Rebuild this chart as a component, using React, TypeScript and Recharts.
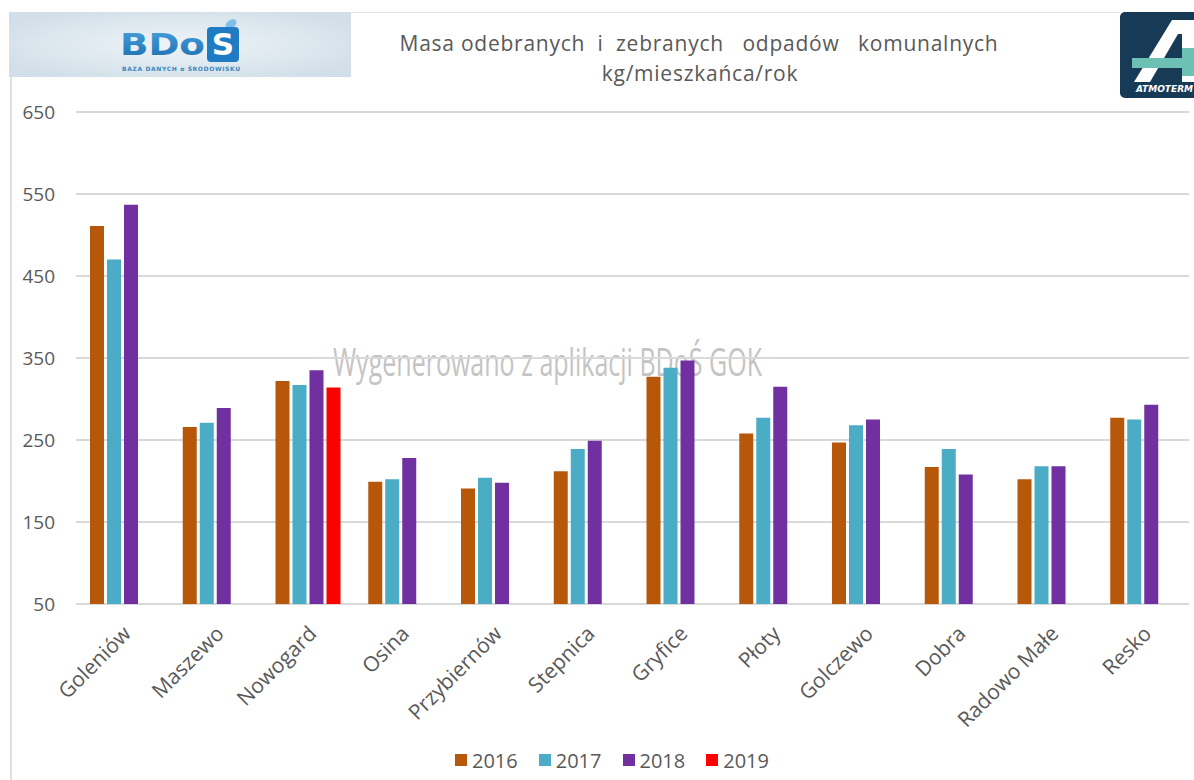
import React from 'react';
import { BarChart, Bar, XAxis, YAxis, CartesianGrid, Legend } from 'recharts';

const GMINY = [
  'Goleniów', 'Maszewo', 'Nowogard', 'Osina', 'Przybiernów', 'Stepnica',
  'Gryfice', 'Płoty', 'Golczewo', 'Dobra', 'Radowo Małe', 'Resko',
];

const Y2016 = [511, 266, 322, 199, 191, 212, 327, 258, 247, 217, 202, 277];
const Y2017 = [470, 271, 317, 202, 204, 239, 338, 277, 268, 239, 218, 275];
const Y2018 = [537, 289, 335, 228, 198, 249, 347, 315, 275, 208, 218, 293];
const Y2019 = [null, null, 314, null, null, null, null, null, null, null, null, null];

const Y_TICKS = [50, 150, 250, 350, 450, 550, 650];

const SERIES = [
  { key: '2016', color: '#b65709', values: Y2016 },
  { key: '2017', color: '#4bacc6', values: Y2017 },
  { key: '2018', color: '#7030a0', values: Y2018 },
  { key: '2019', color: '#ff0000', values: Y2019 },
];

const data = GMINY.map((name, i) => {
  const row: Record<string, string | number | null> = { name };
  SERIES.forEach(s => { row[s.key] = s.values[i]; });
  return row;
});

const FONT = '"Open Sans", sans-serif';
const GREY = '#595959';

const XTick = ({ x, y, payload }: any) => (
  <text
    x={x + 10}
    y={y + 31}
    transform={`rotate(-45, ${x + 10}, ${y + 31})`}
    textAnchor="end"
    fill={GREY}
    fontSize={21}
    fontFamily={FONT}
  >
    {payload.value}
  </text>
);

const LegendBox = () => (
  <div style={{ height: 40, display: 'flex', alignItems: 'center', paddingLeft: 455, fontFamily: FONT }}>
    {SERIES.map(s => (
      <div key={s.key} style={{ display: 'flex', alignItems: 'center', marginRight: 21 }}>
        <span style={{ width: 12, height: 12, background: s.color, display: 'inline-block', marginRight: 5 }} />
        <span style={{ fontSize: 20, color: GREY }}>{s.key}</span>
      </div>
    ))}
  </div>
);

const BdosLogo = () => (
  <svg width={342} height={65} style={{ position: 'absolute', left: 9, top: 12 }}>
    <defs>
      <radialGradient id="bdosBg" cx="0.5" cy="0.5" r="0.6">
        <stop offset="0" stopColor="#eef4f8" />
        <stop offset="1" stopColor="#d2dfe8" />
      </radialGradient>
      <linearGradient id="bdosTxt" x1="0" y1="0" x2="0" y2="1">
        <stop offset="0" stopColor="#4aa3de" />
        <stop offset="1" stopColor="#1b6db0" />
      </linearGradient>
    </defs>
    <rect width={342} height={65} fill="url(#bdosBg)" />
    <text x={111} y={43} textLength={85} lengthAdjust="spacingAndGlyphs" fontFamily="'DejaVu Sans', sans-serif" fontWeight={700} fontSize={31} fill="url(#bdosTxt)">
      BDo
    </text>
    <ellipse cx={222} cy={12} rx={6} ry={4} fill="#7fbfe8" transform="rotate(-35 222 12)" />
    <rect x={198} y={15} width={32} height={35} rx={4} fill="#1f7cc4" />
    <text x={214} y={43} textAnchor="middle" fontFamily="'DejaVu Sans', sans-serif" fontWeight={700} fontSize={31} fill="#fff">
      S
    </text>
    <text x={113} y={59} textLength={118} fontFamily="'DejaVu Sans', sans-serif" fontWeight={700} fontSize={6} fill="#3a86c0">
      BAZA DANYCH o ŚRODOWISKU
    </text>
  </svg>
);

const AtmotermLogo = () => (
  <svg width={80} height={86} style={{ position: 'absolute', left: 1120, top: 12 }}>
    <rect x={0} y={0} width={90} height={86} rx={5} fill="#173a56" />
    <polygon points="14,70 52,8 74,8 74,70 62,70 62,22 58,22 30,70" fill="#fff" />
    <rect x={12} y={46} width={68} height={10} fill="#6cc0b4" />
    <rect x={62} y={36} width={12} height={28} fill="#6cc0b4" />
    <text x={16} y={80} fontFamily="'DejaVu Sans', sans-serif" fontWeight={700} fontStyle="italic" fontSize={9} fill="#fff">
      ATMOTERM
    </text>
  </svg>
);

export default function App() {
  return (
    <div style={{ position: 'absolute', left: 0, top: 0, width: 1194, height: 780, background: '#fff', overflow: 'hidden' }}>
      <div style={{ position: 'absolute', left: 350, top: 12, width: 770, height: 1, background: '#e3e3e3' }} />
      <div style={{ position: 'absolute', left: 10, top: 76, width: 2, height: 704, background: '#e0e0e0' }} />
      <BdosLogo />
      <AtmotermLogo />

      <svg width={1194} height={780} style={{ position: 'absolute', left: 0, top: 0 }}>
        <text x={699} y={51} textAnchor="middle" fontFamily={FONT} fontSize={21} fill={GREY} letterSpacing={0.75} style={{ whiteSpace: 'pre' }}>
          {'Masa odebranych  i  zebranych   odpadów   komunalnych'}
        </text>
        <text x={700} y={81} textAnchor="middle" fontFamily={FONT} fontSize={21} fill={GREY} letterSpacing={0.75}>
          kg/mieszkańca/rok
        </text>
        <text x={333} y={376} textLength={429} lengthAdjust="spacingAndGlyphs" fontFamily={FONT} fontWeight={400} fontSize={38} fill="#c4c4c4">
          Wygenerowano z aplikacji BDoŚ GOK
        </text>
      </svg>

      <div style={{ position: 'absolute', left: 0, top: 0 }}>
        <BarChart
          width={1194}
          height={780}
          data={data}
          margin={{ top: 112, right: 5, left: 0, bottom: 0 }}
          barCategoryGap={14}
          barGap={3}
        >
          <CartesianGrid vertical={false} stroke="#d9d9d9" strokeWidth={2} />
          <XAxis
            dataKey="name"
            axisLine={false}
            tickLine={false}
            tickSize={0}
            tickMargin={0}
            height={136}
            interval={0}
            tick={<XTick />}
          />
          <YAxis
            type="number"
            domain={[50, 650]}
            ticks={Y_TICKS}
            interval={0}
            width={76}
            axisLine={false}
            tickLine={false}
            tickSize={0}
            tickMargin={21}
            tick={{ fill: GREY, fontSize: 19, fontFamily: FONT }}
          />
          <Legend verticalAlign="bottom" align="left" wrapperStyle={{ left: 0, width: 1194 }} content={<LegendBox />} />
          {SERIES.map(s => (
            <Bar key={s.key} dataKey={s.key} name={s.key} fill={s.color} isAnimationActive={false} />
          ))}
        </BarChart>
      </div>
    </div>
  );
}
